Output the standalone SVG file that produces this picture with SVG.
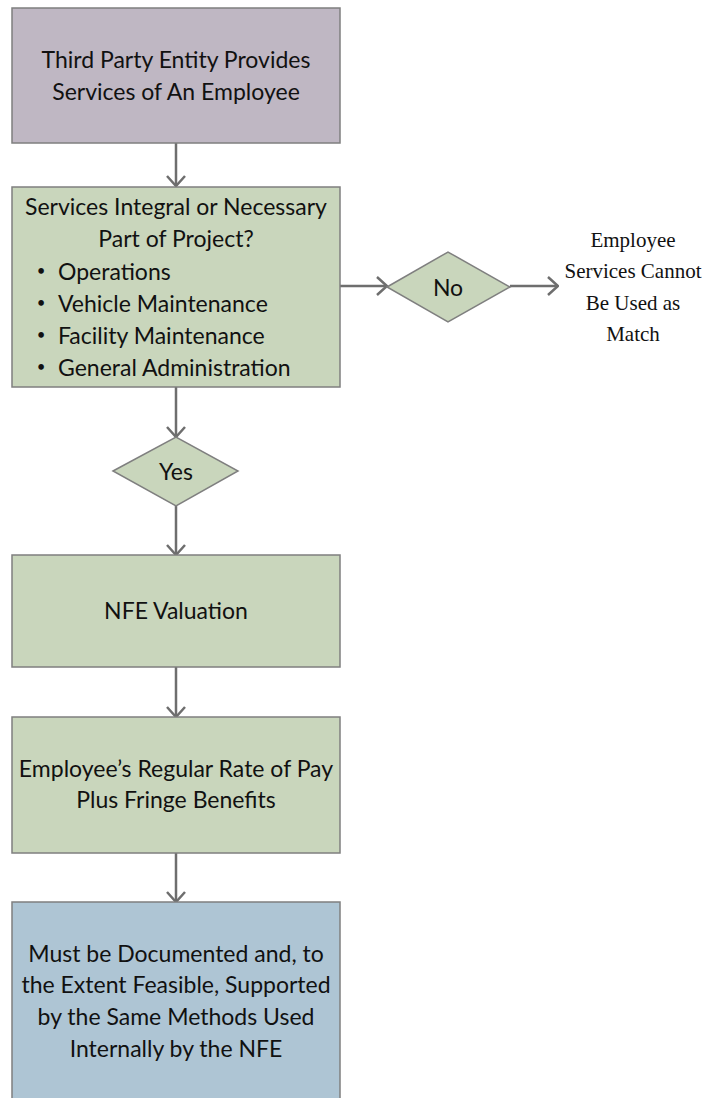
<svg xmlns="http://www.w3.org/2000/svg" width="721" height="1098" viewBox="0 0 721 1098">
<defs>
<style>
.box{stroke:#7f7f7f;stroke-width:1.5}
.purple{fill:#bfb7c3}
.green{fill:#c9d6bc}
.blue{fill:#aec5d4}
.t{font-family:Lato,"Open Sans",sans-serif;font-size:23px;fill:#111;text-anchor:middle}
.tl{font-family:Lato,"Open Sans",sans-serif;font-size:23px;fill:#111}
.bul{font-family:Lato,"Open Sans",sans-serif;font-size:15px;fill:#111;text-anchor:middle}
.serif{font-family:"Liberation Serif",serif;font-size:21px;fill:#111;text-anchor:middle}
.conn{stroke:#6e6e6e;stroke-width:2.5;fill:none}
</style>
<marker id="arr" viewBox="0 0 12 20" refX="11" refY="10" markerWidth="12" markerHeight="20" markerUnits="userSpaceOnUse" orient="auto">
<path d="M1,1 L11,10 L1,19" fill="none" stroke="#6e6e6e" stroke-width="2.5"/>
</marker>
</defs>
<rect width="721" height="1098" fill="#fff"/>
<g id="connectors">
<line class="conn" x1="176" y1="143" x2="176" y2="186" marker-end="url(#arr)"/>
<line class="conn" x1="340" y1="286" x2="387" y2="286" marker-end="url(#arr)"/>
<line class="conn" x1="510" y1="286" x2="558" y2="286" marker-end="url(#arr)"/>
<line class="conn" x1="176" y1="387" x2="176" y2="437" marker-end="url(#arr)"/>
<line class="conn" x1="176" y1="506" x2="176" y2="555" marker-end="url(#arr)"/>
<line class="conn" x1="176" y1="667" x2="176" y2="717" marker-end="url(#arr)"/>
<line class="conn" x1="176" y1="853" x2="176" y2="902" marker-end="url(#arr)"/>
</g>
<g id="start">
<rect class="box purple" x="12" y="8" width="328" height="135"/>
<text class="t" x="176" y="68">Third Party Entity Provides</text>
<text class="t" x="176" y="100">Services of An Employee</text>
</g>
<g id="question">
<rect class="box green" x="12" y="187" width="328" height="200"/>
<text class="t" x="176" y="215">Services Integral or Necessary</text>
<text class="t" x="176" y="247">Part of Project?</text>
<text class="bul" x="41" y="276">•</text>
<text class="tl" x="58" y="280">Operations</text>
<text class="bul" x="41" y="308">•</text>
<text class="tl" x="58" y="312">Vehicle Maintenance</text>
<text class="bul" x="41" y="340">•</text>
<text class="tl" x="58" y="344">Facility Maintenance</text>
<text class="bul" x="41" y="372">•</text>
<text class="tl" x="58" y="376">General Administration</text>
</g>
<g id="no">
<polygon class="box green" points="387,287 448,252 510,287 448,322"/>
<text class="t" x="448" y="296">No</text>
</g>
<g id="cannot">
<text class="serif" x="633" y="247">Employee</text>
<text class="serif" x="633" y="278">Services Cannot</text>
<text class="serif" x="633" y="310">Be Used as</text>
<text class="serif" x="633" y="341">Match</text>
</g>
<g id="yes">
<polygon class="box green" points="113,471 176,437 238,471 176,506"/>
<text class="t" x="176" y="480">Yes</text>
</g>
<g id="valuation">
<rect class="box green" x="12" y="555" width="328" height="112"/>
<text class="t" x="176" y="619">NFE Valuation</text>
</g>
<g id="pay">
<rect class="box green" x="12" y="717" width="328" height="136"/>
<text class="t" x="176" y="777">Employee’s Regular Rate of Pay</text>
<text class="t" x="176" y="808">Plus Fringe Benefits</text>
</g>
<g id="documented">
<rect class="box blue" x="12" y="902" width="328" height="210"/>
<text class="t" x="176" y="962">Must be Documented and, to</text>
<text class="t" x="176" y="993">the Extent Feasible, Supported</text>
<text class="t" x="176" y="1025">by the Same Methods Used</text>
<text class="t" x="176" y="1057">Internally by the NFE</text>
</g>
</svg>
